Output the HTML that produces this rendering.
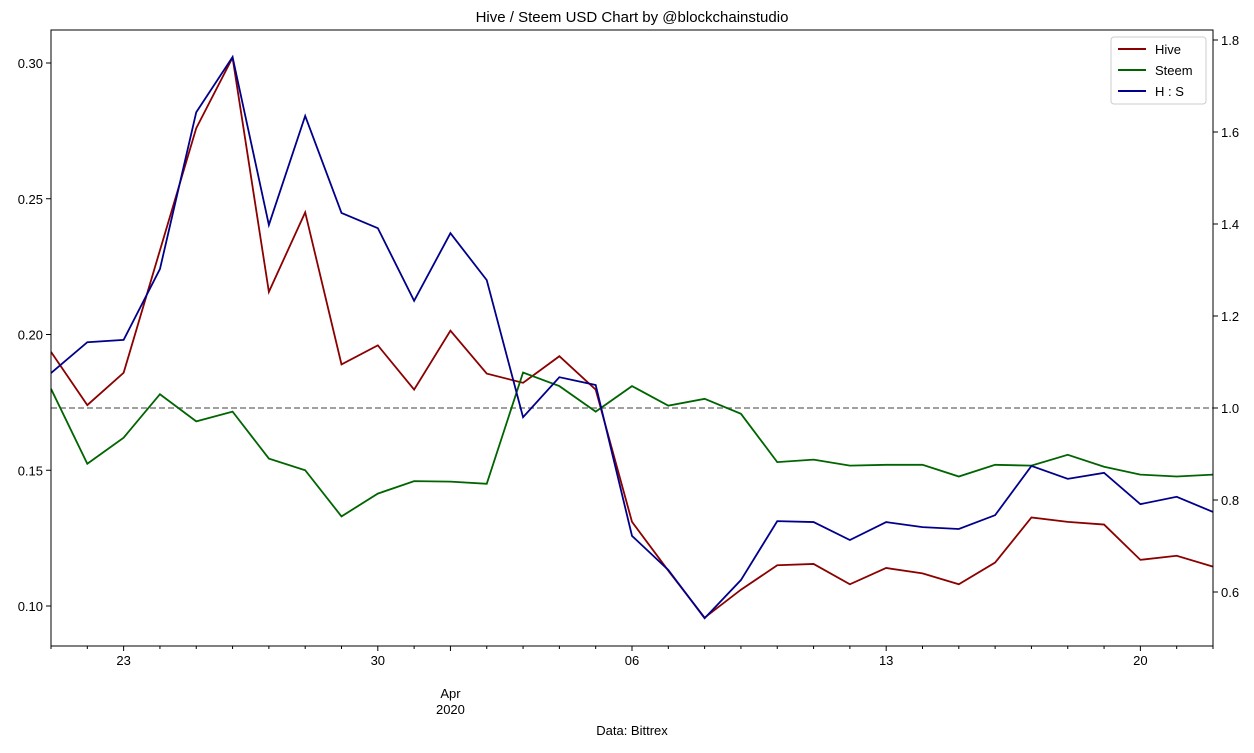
<!DOCTYPE html>
<html><head><meta charset="utf-8"><style>
body{margin:0;background:#fff;font-family:"Liberation Sans",sans-serif;}
svg text{font-family:"Liberation Sans",sans-serif;fill:#000;}
</style></head><body>
<svg id="chart" width="1254" height="748" viewBox="0 0 1254 748">
<text x="632" y="22" font-size="15" text-anchor="middle">Hive / Steem USD Chart by @blockchainstudio</text>
<g id="plot"></g>
<rect x="51" y="30" width="1162" height="616" fill="none" stroke="#000" stroke-width="1"/>
<text x="632" y="735" font-size="13" text-anchor="middle">Data: Bittrex</text>
<g>
<rect x="1111" y="37" width="95" height="67" fill="#fff" stroke="#ccc" rx="3"/>
<line x1="1118" y1="49" x2="1146" y2="49" stroke="#8b0000" stroke-width="2"/>
<text x="1155" y="54" font-size="13">Hive</text>
<line x1="1118" y1="70" x2="1146" y2="70" stroke="#006400" stroke-width="2"/>
<text x="1155" y="75" font-size="13">Steem</text>
<line x1="1118" y1="91" x2="1146" y2="91" stroke="#00008b" stroke-width="2"/>
<text x="1155" y="96" font-size="13">H : S</text>
</g>
</svg>
<script>
const hive=[0.1936,0.174,0.1859,0.231,0.276,0.302,0.2157,0.245,0.189,0.196,0.1797,0.2014,0.1856,0.1822,0.192,0.1797,0.131,0.113,0.0957,0.106,0.115,0.1155,0.108,0.114,0.112,0.108,0.116,0.1326,0.131,0.130,0.117,0.1185,0.1145];
const steem=[0.18,0.1524,0.162,0.178,0.168,0.1716,0.1543,0.150,0.133,0.1414,0.146,0.1458,0.145,0.186,0.181,0.1716,0.181,0.1738,0.1763,0.1708,0.153,0.1539,0.1517,0.152,0.152,0.1477,0.152,0.1517,0.1557,0.1513,0.1484,0.1477,0.1484];
const ratio=[1.076,1.143,1.148,1.302,1.643,1.763,1.398,1.635,1.424,1.391,1.233,1.380,1.278,0.980,1.067,1.05,0.722,0.648,0.543,0.626,0.754,0.752,0.713,0.752,0.741,0.737,0.767,0.874,0.846,0.859,0.791,0.807,0.774];
const leftTicks=[0.10,0.15,0.20,0.25,0.30];
const rightTicks=[0.6,0.8,1.0,1.2,1.4,1.6,1.8];
const dateLabels=[{d:2,t:"23"},{d:9,t:"30"},{d:16,t:"06"},{d:23,t:"13"},{d:30,t:"20"}];
const monthLabel={d:11,t:["Apr","2020"]};
const refLine=1.0;
const NS="http://www.w3.org/2000/svg";
const X0=51,X1=1213,Y0=30,Y1=646;
const xs=d=>X0+d*(X1-X0)/32;
const yl=v=>606-(v-0.10)*2715;
const yr=v=>408-(v-1.0)*460;
const g=document.getElementById('plot');
function mk(tag,attrs,parent){const e=document.createElementNS(NS,tag);for(const k in attrs)e.setAttribute(k,attrs[k]);(parent||g).appendChild(e);return e;}
leftTicks.forEach(v=>{const y=yl(v);
const l=mk('line',{x1:X0-5,x2:X0,y1:y,y2:y,stroke:'#000'});


const t=mk('text',{x:X0-8,y:y+5,'font-size':13,'text-anchor':'end'});t.textContent=v.toFixed(2);

});
rightTicks.forEach(v=>{const y=yr(v);
const l=mk('line',{x1:X1,x2:X1+5,y1:y,y2:y,stroke:'#000'});


const t=mk('text',{x:X1+8,y:y+5,'font-size':13});t.textContent=v.toFixed(1);

});
for(let d=0;d<=32;d++){const major=dateLabels.some(o=>o.d===d)||d===monthLabel.d;
const l=mk('line',{x1:xs(d),x2:xs(d),y1:Y1,y2:Y1+(major?5:3),stroke:'#000'});

}
dateLabels.forEach(o=>{const t=mk('text',{x:xs(o.d),y:665,'font-size':13,'text-anchor':'middle'});t.textContent=o.t;

});
monthLabel.t.forEach((s,i)=>{const t=mk('text',{x:xs(monthLabel.d),y:698+i*16,'font-size':13,'text-anchor':'middle'});t.textContent=s;

});
const rl=mk('line',{x1:X0,x2:X1,y1:yr(refLine),y2:yr(refLine),stroke:'#808080','stroke-width':1.5,'stroke-dasharray':'6,3'});


function series(arr,fy,color,name){const p=mk('polyline',{points:arr.map((v,i)=>xs(i)+','+fy(v)).join(' '),fill:'none',stroke:color,'stroke-width':1.8});

}
series(hive,yl,'#8b0000','hive-line');
series(steem,yl,'#006400','steem-line');
series(ratio,yr,'#00008b','hs-ratio-line');
</script>
</body></html>
